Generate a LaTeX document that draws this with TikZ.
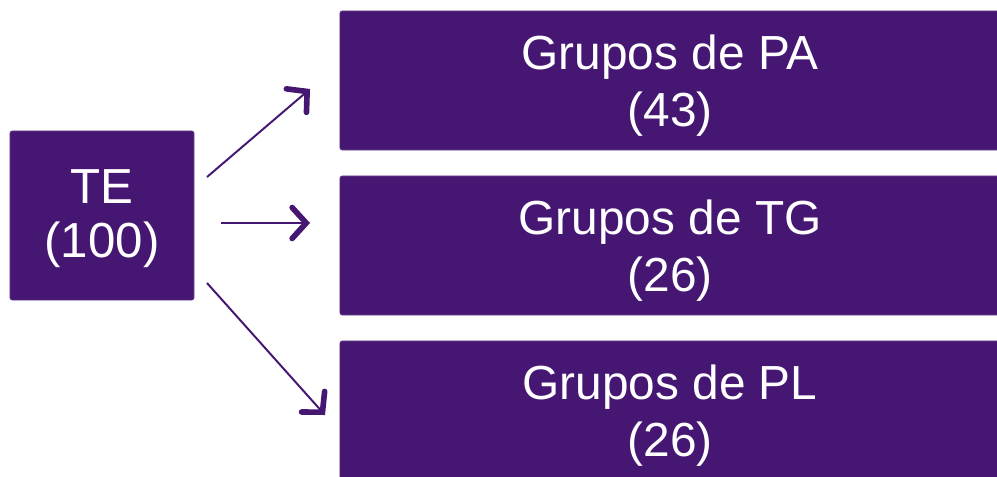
\documentclass[tikz,border=0pt]{standalone}
\usepackage{fontspec}
\setmainfont{Liberation Sans}
\usetikzlibrary{arrows.meta}
\definecolor{purpura}{RGB}{69,22,114}
% two centred lines, lowered a little inside the box
\newcommand{\lineas}[3][4.3pt]{\raisebox{-#1}[\height][\depth]{\begin{tabular}{@{}c@{}}#2\\#3\end{tabular}}}
\begin{document}
\begin{tikzpicture}[x=0.025cm,y=-0.025cm]
        % Define styles for boxes and arrows
        \tikzset{
          caja/.style={rectangle, fill=purpura, draw=purpura!80, rounded corners=1.5pt, text=white,
            inner sep=0pt, font=\fontsize{34}{41}\selectfont},
          flecha/.style={draw=purpura, line width=1.4pt,
            -{Straight Barb[length=10pt, width=22pt, line width=4pt, line cap=round]}}
        }
        \useasboundingbox (0,0) rectangle (997,476);

        % Define boxes
        \node[caja, minimum width=4.6cm, minimum height=4.225cm, font=\fontsize{35}{38}\selectfont] (te) at (102,215.5) {\lineas[3pt]{TE}{(100)}};
        \node[caja, minimum width=16.5cm, minimum height=3.475cm] (pa) at (670,80.5) {\lineas{Grupos de PA}{(43)}};
        \node[caja, minimum width=16.5cm, minimum height=3.475cm] (tg) at (670,245.5) {\lineas{Grupos de TG}{(26)}};
        \node[caja, minimum width=16.5cm, minimum height=3.475cm] (pl) at (670,410.5) {\lineas{Grupos de PL}{(26)}};

        % Arrow end points
        \coordinate (s1) at (207,177);
        \coordinate (e1) at (310,89);
        \coordinate (s2) at (221,223);
        \coordinate (e2) at (310,223);
        \coordinate (s3) at (207,283);
        \coordinate (e3) at (325,415);

        % Draw arrows
        \draw[flecha] (s1) -- (e1);
        \draw[flecha] (s2) -- (e2);
        \draw[flecha] (s3) -- (e3);

      \end{tikzpicture}
\end{document}
